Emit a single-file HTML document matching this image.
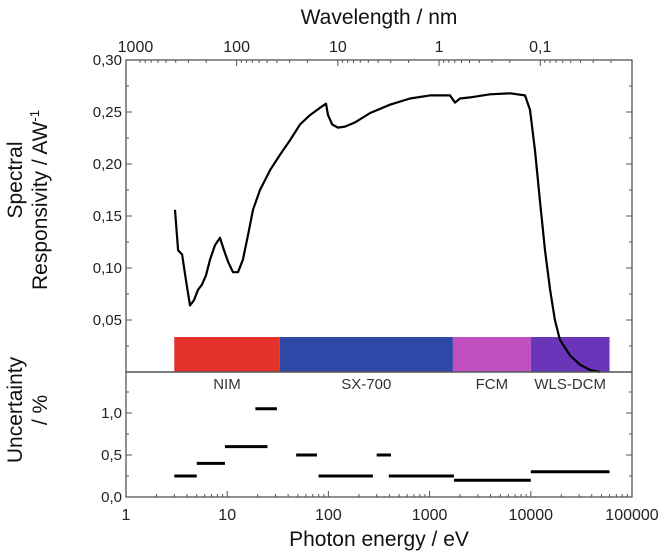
<!DOCTYPE html>
<html><head><meta charset="utf-8"><style>
html,body{margin:0;padding:0;background:#fff;}
svg{display:block;font-family:"Liberation Sans",Arial,sans-serif;}
</style></head><body>
<svg id="chart" width="669" height="552" viewBox="0 0 669 552" xmlns="http://www.w3.org/2000/svg"></svg>
<script>
const curveEnergy=[3.05,3.27,3.58,3.92,4.29,4.70,5.15,5.64,6.18,6.76,7.57,8.49,9.30,10.2,11.4,12.8,14.3,16.1,18.0,21.1,26.5,33.3,41.8,52.4,65.8,82.6,94.7,99,109,124,146,183,258,406,640,1009,1592,1783,1995,2506,3954,6230,8770,9820,11000,12300,13800,15500,17300,19400,24400,30600,38400,48300];
const curveResp=[0.156,0.117,0.113,0.088,0.064,0.069,0.079,0.084,0.093,0.108,0.122,0.129,0.117,0.106,0.096,0.096,0.108,0.132,0.156,0.175,0.194,0.209,0.223,0.238,0.247,0.254,0.258,0.247,0.238,0.235,0.236,0.240,0.249,0.257,0.263,0.266,0.266,0.259,0.263,0.264,0.267,0.268,0.266,0.252,0.213,0.165,0.117,0.079,0.050,0.031,0.016,0.007,0.002,0.0];
const uncStart=[3,5,9.5,19,48,80,300,395,1740,10000];
const uncEnd=[5,9.5,25,31,77,275,415,1740,10000,60000];
const uncValue=[0.25,0.4,0.6,1.05,0.5,0.25,0.5,0.25,0.2,0.3];
const bandNames=["NIM","SX-700","FCM","WLS-DCM"];
const bandStart=[3,33,1700,10000];
const bandEnd=[33,1700,10000,60000];
const bandColors=["#e4322b","#2f48a8","#c04fc0","#6a35b8"];
const topTicks=["0,30","0,25","0,20","0,15","0,10","0,05"];
const topTickVals=[0.30,0.25,0.20,0.15,0.10,0.05];
const botTicks=["0,0","0,5","1,0"];
const botTickVals=[0,0.5,1.0];
const xTickLabels=["1","10","100","1000","10000","100000"];
const xTickVals=[1,10,100,1000,10000,100000];
const wlLabels=["1000","100","10","1","0,1"];
const wlVals=[1000,100,10,1,0.1];

const L=126,R=632,T=60,MID=372,B=497;
const X=e=>L+(R-L)*Math.log10(e)/5;
const Yt=v=>MID-v*1040;
const Yb=v=>B-v*84;
const svg=document.getElementById('chart');
const NS='http://www.w3.org/2000/svg';
function mk(tag,attrs,parent){const el=document.createElementNS(NS,tag);for(const k in attrs)el.setAttribute(k,attrs[k]);(parent||svg).appendChild(el);return el;}

bandNames.forEach((n,i)=>{
  const r=mk('rect',{x:X(bandStart[i]),y:337,width:X(bandEnd[i])-X(bandStart[i]),height:MID-337,fill:bandColors[i]});
  
  
});
let d='';curveEnergy.forEach((e,i)=>{d+=(i?'L':'M')+X(e).toFixed(1)+','+Yt(curveResp[i]).toFixed(1);});
const c=mk('path',{d:d,fill:'none',stroke:'#000','stroke-width':2.2,'stroke-linejoin':'round'});


uncValue.forEach((v,i)=>{
  const s=mk('line',{x1:X(uncStart[i]),x2:X(uncEnd[i]),y1:Yb(v),y2:Yb(v),stroke:'#000','stroke-width':3});
  
  
});
const f1=mk('rect',{x:L,y:T,width:R-L,height:MID-T,fill:'none',stroke:'#555','stroke-width':1.3});


const f2=mk('rect',{x:L,y:MID,width:R-L,height:B-MID,fill:'none',stroke:'#555','stroke-width':1.3});


topTickVals.forEach((v,i)=>{
  mk('line',{x1:L,x2:L+6,y1:Yt(v),y2:Yt(v),stroke:'#555'});
  mk('line',{x1:R,x2:R-6,y1:Yt(v),y2:Yt(v),stroke:'#555'});
  mk('line',{x1:L,x2:L+3,y1:Yt(v-0.025),y2:Yt(v-0.025),stroke:'#555'});
  mk('line',{x1:R,x2:R-3,y1:Yt(v-0.025),y2:Yt(v-0.025),stroke:'#555'});
  const t=mk('text',{x:L-4,y:Yt(v)+5,'text-anchor':'end','font-size':15,fill:'#222'});
  t.textContent=topTicks[i];
  
  
});
botTickVals.forEach((v,i)=>{
  mk('line',{x1:L,x2:L+6,y1:Yb(v),y2:Yb(v),stroke:'#555'});
  mk('line',{x1:R,x2:R-6,y1:Yb(v),y2:Yb(v),stroke:'#555'});
  mk('line',{x1:L,x2:L+3,y1:Yb(v+0.25),y2:Yb(v+0.25),stroke:'#555'});
  mk('line',{x1:R,x2:R-3,y1:Yb(v+0.25),y2:Yb(v+0.25),stroke:'#555'});
  const t=mk('text',{x:L-4,y:Yb(v)+5,'text-anchor':'end','font-size':15,fill:'#222'});
  t.textContent=botTicks[i];
  
  
});
for(let p=0;p<5;p++){for(let m=1;m<10;m++){const x=X(m*Math.pow(10,p));mk('line',{x1:x,x2:x,y1:B,y2:B-(m==1?6:3),stroke:'#555'});}}
xTickVals.forEach((v,i)=>{
  const t=mk('text',{x:X(v),y:B+23,'text-anchor':'middle','font-size':16,fill:'#222'});
  t.textContent=xTickLabels[i];
  
  
});
const W=lam=>X(1239.8/lam);
for(let p=-2;p<3;p++){for(let m=1;m<10;m++){const lam=m*Math.pow(10,p);const x=W(lam);if(x<L||x>R)continue;mk('line',{x1:x,x2:x,y1:T,y2:T+(m==1?6:3),stroke:'#555'});}}
wlVals.forEach((v,i)=>{
  const t=mk('text',{x:W(v),y:T-8,'text-anchor':'middle','font-size':16,fill:'#222'});
  t.textContent=wlLabels[i];
  
  
});
bandNames.forEach((n,i)=>{
  const cx=(X(bandStart[i])+X(bandEnd[i]))/2;
  const t=mk('text',{x:cx,y:389,'text-anchor':'middle','font-size':15,fill:'#333'});
  t.textContent=n;
  
  
});
function title(txt,x,y,size,rot,name){const t=mk('text',{x:x,y:y,'text-anchor':'middle','font-size':size,fill:'#111'});if(rot)t.setAttribute('transform','rotate(-90 '+x+' '+y+')');t.textContent=txt;return t;}
title('Wavelength / nm',379,24,21,false,'top-axis-title');
title('Photon energy / eV',379,546,21,false,'x-axis-title');
title('Spectral',22,180,21,true,'y-axis-title-line1');
const yt=title('Responsivity / AW',47,200,21,true,'y-axis-title-line2');
const sup=document.createElementNS(NS,'tspan');sup.setAttribute('dy','-8');sup.setAttribute('font-size',13);sup.textContent='-1';yt.appendChild(sup);
title('Uncertainty',22,410,21,true,'uncertainty-title-line1');
title('/ %',47,410,21,true,'uncertainty-title-line2');
</script>
</body></html>
